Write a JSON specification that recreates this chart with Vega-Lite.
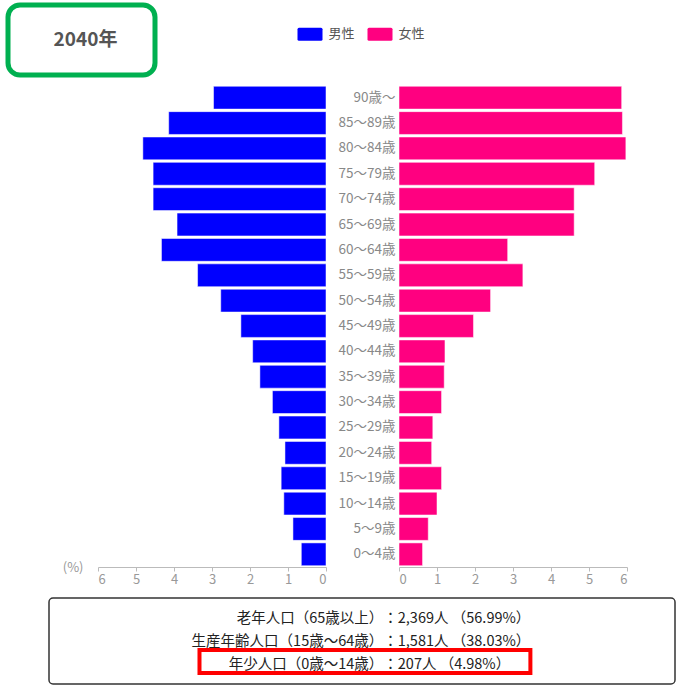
{
  "$schema": "https://vega.github.io/schema/vega-lite/v6.json",
  "padding": {"left": 5, "top": 2, "right": 0, "bottom": 0},
  "background": "white",
  "config": {"font": "Noto Sans CJK JP", "view": {"stroke": null}},
  "datasets": {
    "pyr": [
      {"age": "90歳〜", "sex": "男性", "pct": 2.96}, {"age": "90歳〜", "sex": "女性", "pct": 5.86},
      {"age": "85〜89歳", "sex": "男性", "pct": 4.14}, {"age": "85〜89歳", "sex": "女性", "pct": 5.88},
      {"age": "80〜84歳", "sex": "男性", "pct": 4.82}, {"age": "80〜84歳", "sex": "女性", "pct": 5.97},
      {"age": "75〜79歳", "sex": "男性", "pct": 4.55}, {"age": "75〜79歳", "sex": "女性", "pct": 5.15},
      {"age": "70〜74歳", "sex": "男性", "pct": 4.55}, {"age": "70〜74歳", "sex": "女性", "pct": 4.61},
      {"age": "65〜69歳", "sex": "男性", "pct": 3.92}, {"age": "65〜69歳", "sex": "女性", "pct": 4.61},
      {"age": "60〜64歳", "sex": "男性", "pct": 4.33}, {"age": "60〜64歳", "sex": "女性", "pct": 2.86},
      {"age": "55〜59歳", "sex": "男性", "pct": 3.38}, {"age": "55〜59歳", "sex": "女性", "pct": 3.26},
      {"age": "50〜54歳", "sex": "男性", "pct": 2.77}, {"age": "50〜54歳", "sex": "女性", "pct": 2.41},
      {"age": "45〜49歳", "sex": "男性", "pct": 2.24}, {"age": "45〜49歳", "sex": "女性", "pct": 1.96},
      {"age": "40〜44歳", "sex": "男性", "pct": 1.93}, {"age": "40〜44歳", "sex": "女性", "pct": 1.21},
      {"age": "35〜39歳", "sex": "男性", "pct": 1.74}, {"age": "35〜39歳", "sex": "女性", "pct": 1.19},
      {"age": "30〜34歳", "sex": "男性", "pct": 1.41}, {"age": "30〜34歳", "sex": "女性", "pct": 1.12},
      {"age": "25〜29歳", "sex": "男性", "pct": 1.24}, {"age": "25〜29歳", "sex": "女性", "pct": 0.89},
      {"age": "20〜24歳", "sex": "男性", "pct": 1.08}, {"age": "20〜24歳", "sex": "女性", "pct": 0.86},
      {"age": "15〜19歳", "sex": "男性", "pct": 1.18}, {"age": "15〜19歳", "sex": "女性", "pct": 1.12},
      {"age": "10〜14歳", "sex": "男性", "pct": 1.11}, {"age": "10〜14歳", "sex": "女性", "pct": 1.00},
      {"age": "5〜9歳", "sex": "男性", "pct": 0.87}, {"age": "5〜9歳", "sex": "女性", "pct": 0.77},
      {"age": "0〜4歳", "sex": "男性", "pct": 0.65}, {"age": "0〜4歳", "sex": "女性", "pct": 0.62}
    ],
    "summary": [
      {"group": "老年人口", "label": "老年人口（65歳以上）", "value": "：2,369人 （56.99%）"},
      {"group": "生産年齢人口", "label": "生産年齢人口（15歳〜64歳）", "value": "：1,581人 （38.03%）"},
      {"group": "年少人口", "label": "年少人口（0歳〜14歳）", "value": "：207人 （4.98%）"}
    ]
  },
  "bounds": "flush",
  "spacing": 10,
  "vconcat": [
    {
      "width": 147,
      "height": 70,
      "view": {"stroke": "#00b050", "strokeWidth": 5, "cornerRadius": 12, "fill": "white"},
      "data": {"values": [{"t": "2040年"}]},
      "mark": {"type": "text", "fontSize": 19, "fontWeight": "bold", "color": "#555555", "dx": 4},
      "encoding": {"text": {"field": "t"}}
    },
    {
      "bounds": "full",
      "spacing": 11,
      "vconcat": [
        {
          "bounds": "flush",
          "spacing": 73,
          "hconcat": [
            {
              "width": 17,
              "height": 482,
              "data": {"values": [{}]},
              "mark": {"type": "text", "text": ""},
              "encoding": {}
            },
            {
              "width": 228,
              "height": 482,
              "data": {"name": "pyr"},
              "transform": [{"filter": "datum.sex === '男性'"}],
              "mark": {"type": "bar", "stroke": "white", "strokeWidth": 1, "strokeOpacity": 0.5},
              "encoding": {
                "y": {
                  "field": "age", "type": "nominal", "sort": null,
                  "scale": {"paddingInner": 0.1, "paddingOuter": 0.05},
                  "axis": {"orient": "right", "title": null, "domain": false, "ticks": false, "tickSize": 0,
                    "labelAlign": "right", "labelPadding": 69, "labelFontSize": 13.5, "labelColor": "#888888"}
                },
                "x": {
                  "field": "pct", "type": "quantitative",
                  "scale": {"domain": [0, 6], "reverse": true},
                  "axis": {"values": [0, 1, 2, 3, 4, 5, 6], "format": "d", "grid": false,
                    "domainColor": "#bbbbbb", "tickColor": "#bbbbbb", "tickSize": 4,
                    "labelColor": "#999999", "labelFontSize": 13, "labelPadding": 2,
                    "title": "(%)", "titleX": -15, "titleY": 0, "titleAlign": "right", "titleBaseline": "middle",
                    "titleFontWeight": "normal", "titleColor": "#999999", "titleFontSize": 13}
                },
                "color": {
                  "field": "sex", "type": "nominal",
                  "scale": {"domain": ["男性", "女性"], "range": ["#0000ff", "#ff0080"]},
                  "legend": {"orient": "none", "legendX": 289.5, "legendY": 16.5, "direction": "horizontal", "title": null,
                    "symbolType": "M-0.88,-0.52H0.88Q1,-0.52 1,-0.4V0.4Q1,0.52 0.88,0.52H-0.88Q-1,0.52 -1,0.4V-0.4Q-1,-0.52 -0.88,-0.52Z",
                    "symbolSize": 625, "symbolStrokeWidth": 0, "symbolOpacity": 1,
                    "labelFontSize": 13, "labelColor": "#555555", "labelOffset": 6, "columnPadding": 12, "padding": 0}
                }
              }
            },
            {
              "width": 228,
              "height": 482,
              "data": {"name": "pyr"},
              "transform": [{"filter": "datum.sex === '女性'"}],
              "mark": {"type": "bar", "stroke": "white", "strokeWidth": 1, "strokeOpacity": 0.5},
              "encoding": {
                "y": {
                  "field": "age", "type": "nominal", "sort": null,
                  "scale": {"paddingInner": 0.1, "paddingOuter": 0.05},
                  "axis": null
                },
                "x": {
                  "field": "pct", "type": "quantitative",
                  "scale": {"domain": [0, 6]},
                  "axis": {"values": [0, 1, 2, 3, 4, 5, 6], "format": "d", "grid": false,
                    "domainColor": "#bbbbbb", "tickColor": "#bbbbbb", "tickSize": 4,
                    "labelColor": "#999999", "labelFontSize": 13, "labelPadding": 2, "title": null}
                },
                "color": {
                  "field": "sex", "type": "nominal",
                  "scale": {"domain": ["男性", "女性"], "range": ["#0000ff", "#ff0080"]},
                  "legend": {"orient": "none", "legendX": 289.5, "legendY": 16.5, "direction": "horizontal", "title": null,
                    "symbolType": "M-0.88,-0.52H0.88Q1,-0.52 1,-0.4V0.4Q1,0.52 0.88,0.52H-0.88Q-1,0.52 -1,0.4V-0.4Q-1,-0.52 -0.88,-0.52Z",
                    "symbolSize": 625, "symbolStrokeWidth": 0, "symbolOpacity": 1,
                    "labelFontSize": 13, "labelColor": "#555555", "labelOffset": 6, "columnPadding": 12, "padding": 0}
                }
              }
            }
          ]
        },
        {
          "bounds": "flush",
          "spacing": 0,
          "hconcat": [
            {
              "width": 41,
              "height": 86,
              "data": {"values": [{}]},
              "mark": {"type": "text", "text": ""},
              "encoding": {}
            },
            {
              "width": 626,
              "height": 86,
              "view": {"stroke": "#333333", "strokeWidth": 1.5, "cornerRadius": 4},
              "data": {"name": "summary"},
              "encoding": {
                "y": {"field": "label", "type": "nominal", "sort": null,
                  "scale": {"paddingInner": 0, "paddingOuter": 0.37, "align": 0.35}, "axis": null}
              },
              "layer": [
                {
                  "mark": {"type": "text", "align": "right", "fontSize": 14.5, "color": "#222222", "dy": 3.5},
                  "encoding": {
                    "x": {"datum": 0.534, "type": "quantitative", "scale": {"domain": [0, 1]}, "axis": null},
                    "text": {"field": "label"}
                  }
                },
                {
                  "mark": {"type": "text", "align": "left", "fontSize": 14.5, "color": "#222222", "dy": 3.5},
                  "encoding": {
                    "x": {"datum": 0.534, "type": "quantitative"},
                    "text": {"field": "value"}
                  }
                },
                {
                  "transform": [{"filter": "datum.group === '年少人口'"}],
                  "mark": {"type": "rect", "filled": false, "color": "#ff0000", "strokeWidth": 4},
                  "encoding": {
                    "x": {"datum": 0.2404, "type": "quantitative"},
                    "x2": {"datum": 0.769}
                  }
                }
              ]
            }
          ]
        }
      ]
    }
  ]
}
